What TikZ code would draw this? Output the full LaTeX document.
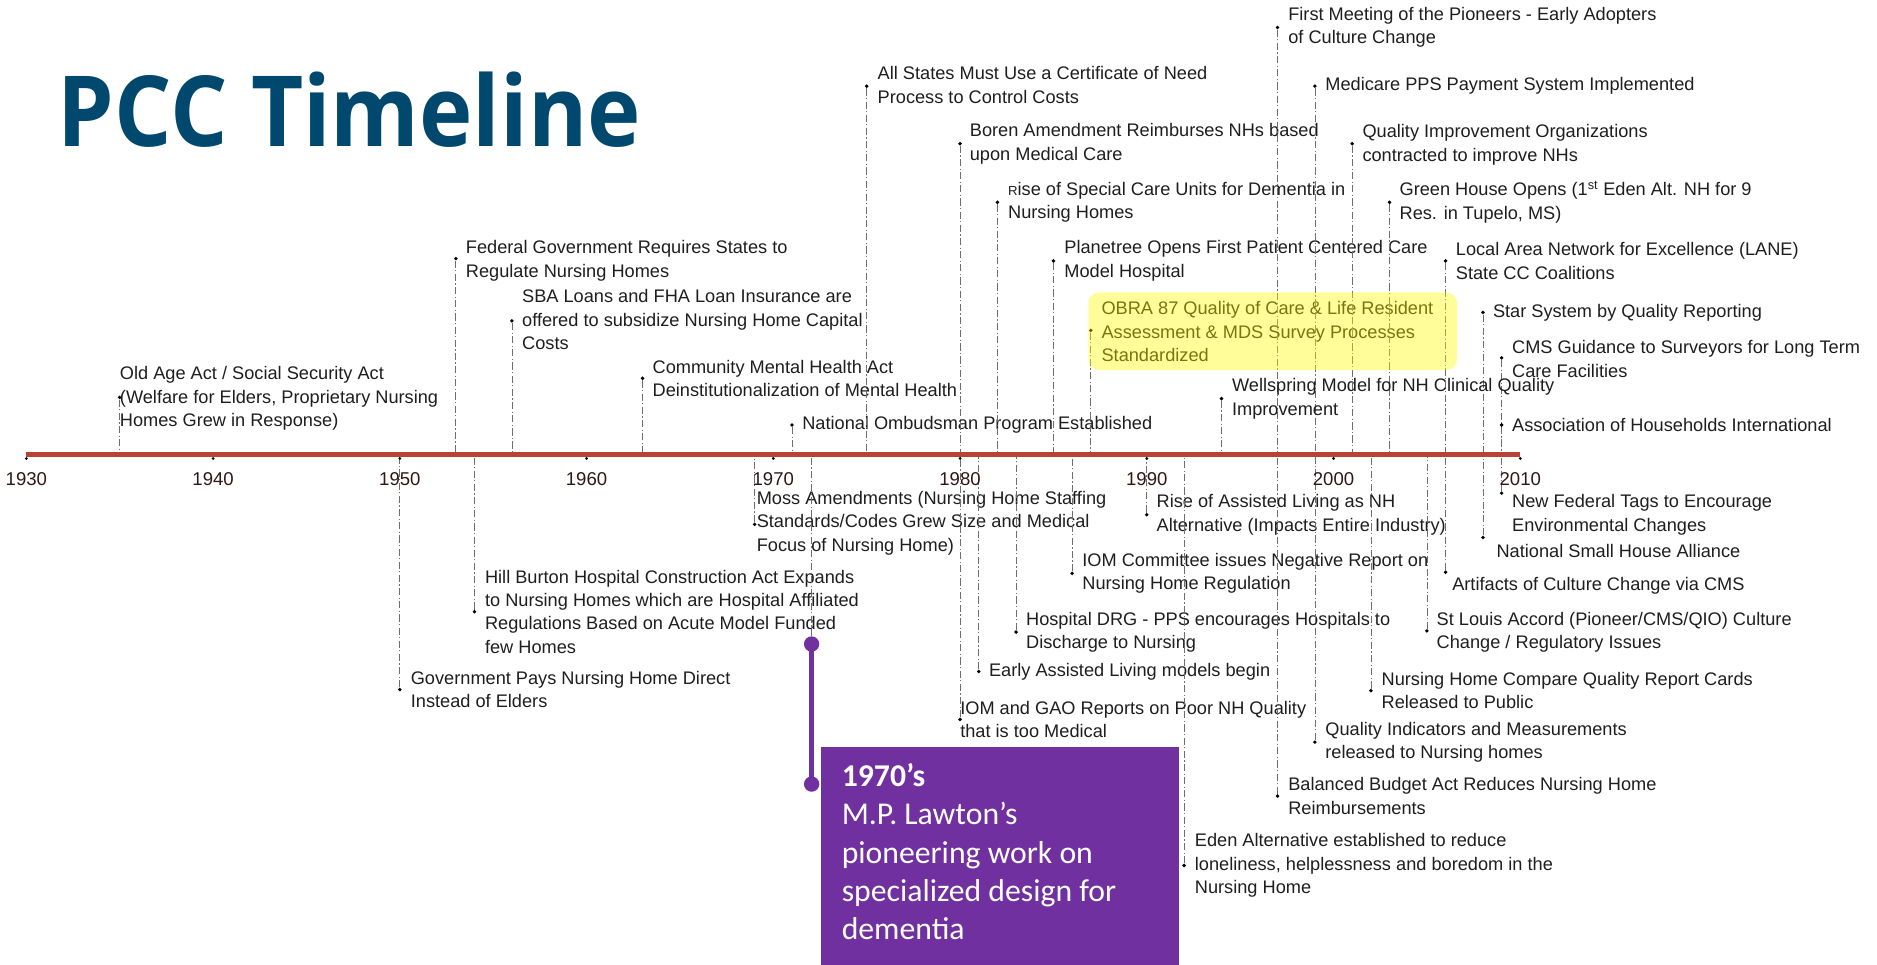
\documentclass[tikz,border=0pt]{standalone}
\usepackage{fontspec}
\setmainfont{Liberation Sans}
\newfontfamily\titlefont[FakeStretch=0.92]{Open Sans}
\newfontfamily\boxfont{Carlito}
\usetikzlibrary{calc}

\definecolor{axisred}{RGB}{184,66,51}
\definecolor{titleblue}{RGB}{0,72,110}
\definecolor{boxpurple}{RGB}{112,48,160}
\definecolor{inkgray}{RGB}{30,30,30}
\definecolor{guidegray}{RGB}{110,110,110}
\definecolor{yearink}{RGB}{48,22,22}
\definecolor{hiliteyellow}{RGB}{255,250,0}

\tikzset{
  evtext/.style={anchor=west, align=left, inner sep=0pt,
    font=\fontsize{15.2}{19.6}\selectfont, text=inkgray},
  evdot/.style={circle, fill=black, inner sep=0pt, minimum size=3.2pt},
  evline/.style={draw=guidegray, line width=0.6pt,
    dash pattern=on 6pt off 2pt on 1pt off 2pt},
  yearlbl/.style={inner sep=0pt, font=\fontsize{15.5}{18}\selectfont, text=yearink},
  tickdot/.style={circle, fill=black, inner sep=0pt, minimum size=2.6pt},
  axisline/.style={draw=axisred, line width=4pt},
  pdot/.style={circle, fill=boxpurple, inner sep=0pt, minimum size=12.8pt},
  pline/.style={draw=boxpurple, line width=4pt},
  hilite/.style={fill=hiliteyellow, fill opacity=0.4, rounded corners=9pt,
    inner sep=0pt, anchor=north west},
  boxtext/.style={anchor=north west, align=left, inner sep=0pt, text=white,
    font=\boxfont\fontsize{26.5}{32}\selectfont},
}

% one dated event: dot on its year, guide line to the axis, label
% #1 name, #2 year, #3 dot y, #4 label x, #5 label y, #6 label text
\newcommand\tlevent[6]{%
  \node[evdot] (#1) at ({22+(#2-1930)*15.6},#3) {};
  \draw[evline] (#1) -- (#1 |- axisL);
  \node[evtext] (#1-t) at (#4,#5) {#6};
}

\begin{document}
\begin{tikzpicture}[x=1pt,y=-1pt]
\useasboundingbox (0,0) rectangle (1568,806);

\coordinate (axisL) at (22,380);
\coordinate (axisR) at (1270,380);

% title
\node[anchor=base west, inner sep=0pt, text=titleblue,
  font=\titlefont\bfseries\fontsize{82}{90}\selectfont] (title) at (48,122) {PCC Timeline};

% events above the axis
\tlevent{oldage}{1935}{332}{100}{333}{Old Age Act / Social Security Act\\(Welfare for Elders, Proprietary Nursing\\Homes Grew in Response)}
\tlevent{fedgov}{1953}{216}{389}{218}{Federal Government Requires States to\\Regulate Nursing Homes}
\tlevent{sba}{1956}{268}{436}{267}{SBA Loans and FHA Loan Insurance are\\offered to subsidize Nursing Home Capital\\Costs}
\tlevent{cmh}{1963}{316}{545}{316}{Community Mental Health Act\\Deinstitutionalization of Mental Health}
\tlevent{ombud}{1971}{355}{670}{355}{National Ombudsman Program Established}
\tlevent{con}{1975}{72}{733}{71}{All States Must Use a Certificate of Need\\Process to Control Costs}
\tlevent{boren}{1980}{120}{810}{120}{Boren Amendment Reimburses NHs based\\upon Medical Care}
\tlevent{scu}{1982}{169}{842}{169}{{\fontsize{11}{11}\selectfont R}ise of Special Care Units for Dementia in\\Nursing Homes}
\tlevent{planetree}{1985}{218}{889}{218}{Planetree Opens First Patient Centered Care\\Model Hospital}
\tlevent{obra}{1987}{276}{920}{277}{OBRA 87 Quality of Care \& Life Resident\\Assessment \& MDS Survey Processes\\Standardized}
\tlevent{pioneers}{1997}{23}{1076}{23}{First Meeting of the Pioneers - Early Adopters\\of Culture Change}
\tlevent{pps}{1999}{72}{1107}{72}{Medicare PPS Payment System Implemented}
\tlevent{qio}{2001}{120}{1138}{121}{Quality Improvement Organizations\\contracted to improve NHs}
\tlevent{greenhouse}{2003}{169}{1169}{169}{Green House Opens (1\textsuperscript{st} Eden Alt. NH for 9\\Res. in Tupelo, MS)}
\tlevent{lane}{2006}{218}{1216}{218}{Local Area Network for Excellence (LANE)\\State CC Coalitions}
\tlevent{star}{2008}{261}{1247}{261}{Star System by Quality Reporting}
\tlevent{cmsguide}{2009}{299}{1263}{300}{CMS Guidance to Surveyors for Long Term\\Care Facilities}
\tlevent{wellspring}{1994}{333}{1029}{333}{Wellspring Model for NH Clinical Quality\\Improvement}
\tlevent{households}{2009}{355}{1263}{355}{Association of Households International}

% events below the axis
\tlevent{moss}{1969}{438}{632}{437}{Moss Amendments (Nursing Home Staffing\\Standards/Codes Grew Size and Medical\\Focus of Nursing Home)}
\tlevent{hillburton}{1954}{511}{405}{511}{Hill Burton Hospital Construction Act Expands\\to Nursing Homes which are Hospital Affiliated\\Regulations Based on Acute Model Funded\\few Homes}
\tlevent{govpays}{1950}{576}{343}{576}{Government Pays Nursing Home Direct\\Instead of Elders}
\tlevent{iomgao}{1980}{601}{802}{601}{IOM and GAO Reports on Poor NH Quality\\that is too Medical}
\tlevent{earlyal}{1981}{561}{826}{561}{Early Assisted Living models begin}
\tlevent{drg}{1983}{528}{857}{528}{Hospital DRG - PPS encourages Hospitals to\\Discharge to Nursing}
\tlevent{iomcomm}{1986}{479}{904}{479}{IOM Committee issues Negative Report on\\Nursing Home Regulation}
\tlevent{riseal}{1990}{430}{966}{430}{Rise of Assisted Living as NH\\Alternative (Impacts Entire Industry)}
\tlevent{eden}{1992}{723}{998}{723}{Eden Alternative established to reduce\\loneliness, helplessness and boredom in the\\Nursing Home}
\tlevent{bba}{1997}{665}{1076}{665}{Balanced Budget Act Reduces Nursing Home\\Reimbursements}
\tlevent{qim}{1999}{620}{1107}{620}{Quality Indicators and Measurements\\released to Nursing homes}
\tlevent{nhcompare}{2002}{577}{1154}{577}{Nursing Home Compare Quality Report Cards\\Released to Public}
\tlevent{stlouis}{2005}{527}{1200}{528}{St Louis Accord (Pioneer/CMS/QIO) Culture\\Change / Regulatory Issues}
\tlevent{artifacts}{2006}{478}{1213}{489}{Artifacts of Culture Change via CMS}
\tlevent{nsha}{2008}{449}{1250}{460}{National Small House Alliance}
\tlevent{fedtags}{2009}{412}{1263}{430}{New Federal Tags to Encourage\\Environmental Changes}

% highlight over the OBRA 87 entry
\node[hilite, minimum width=308pt, minimum height=65pt] (obra-hl) at (909,244) {};

% the 1970s callout
\node[pdot] (p1) at (678,538) {};
\node[pdot] (p2) at (678,655) {};
\draw[evline] (p1) -- (p1 |- axisL);
\draw[pline] (p1.center) -- (p2.center);
\node[fill=boxpurple, anchor=north west, inner sep=0pt,
  minimum width=299pt, minimum height=190pt] (lawton) at (686,624) {};
\node[boxtext] (lawton-t) at (703,637.5)
  {\bfseries 1970’s\\M.P. Lawton’s\\pioneering work on\\specialized design for\\dementia};

% axis, decade ticks and labels
\draw[axisline] (axisL) -- (axisR);
\foreach \yr in {1930,1940,...,2010}{
  \node[tickdot] (tick\yr) at ({22+(\yr-1930)*15.6},383) {};
  \node[yearlbl] (year\yr) at ({22+(\yr-1930)*15.6},400) {\yr};
}
\end{tikzpicture}
\end{document}
